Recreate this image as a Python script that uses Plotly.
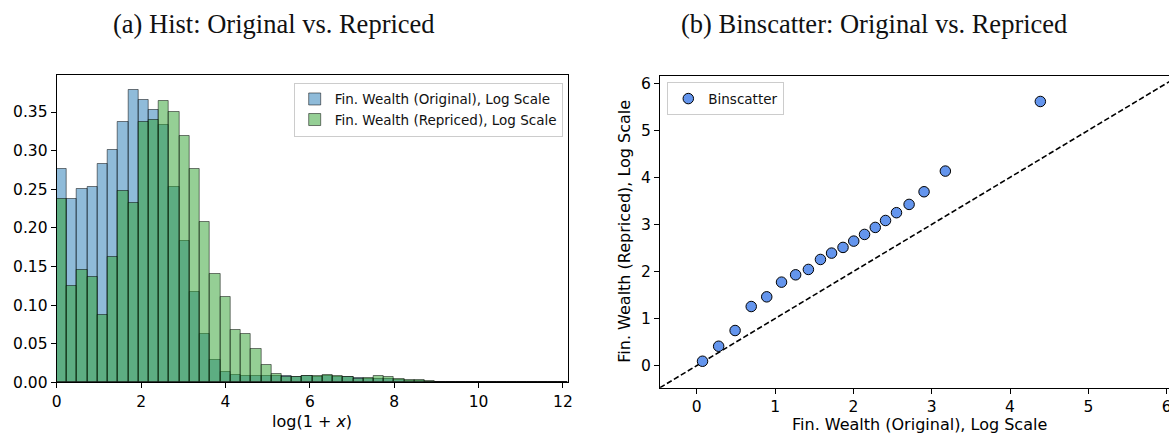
import numpy as np
import plotly.graph_objects as go

# ---- histogram data (density per bin, 50 equal bins over HIST_RANGE) ----
HIST_RANGE = (0.0, 12.12)
density_original = [
    0.2766, 0.2377, 0.2502, 0.2528, 0.2826, 0.3003, 0.3366, 0.3781, 0.3656, 0.3531,
    0.3332, 0.2524, 0.1824, 0.1167, 0.0622, 0.0285, 0.0136, 0.0092, 0.0086, 0.0083,
    0.0080, 0.0078, 0.0077, 0.0075, 0.0076, 0.0075, 0.0076, 0.0072, 0.0065, 0.0056,
    0.0046, 0.0045, 0.0040, 0.0031, 0.0022, 0.0015, 0.0010, 0.0008, 0.0006, 0.0005,
    0.0004, 0.0003, 0.0002, 0.0001, 0.0, 0.0, 0.0, 0.0, 0.0, 0.0,
]
density_repriced = [
    0.2373, 0.1249, 0.1452, 0.1366, 0.0873, 0.1621, 0.2472, 0.2316, 0.3366, 0.3392,
    0.3639, 0.3496, 0.3189, 0.2757, 0.2074, 0.1404, 0.1102, 0.0680, 0.0627, 0.0428,
    0.0225, 0.0110, 0.0075, 0.0073, 0.0078, 0.0078, 0.0090, 0.0082, 0.0072, 0.0048,
    0.0056, 0.0086, 0.0073, 0.0043, 0.0035, 0.0026, 0.0013, 0.0008, 0.0006, 0.0005,
    0.0004, 0.0003, 0.0002, 0.0001, 0.0, 0.0, 0.0, 0.0, 0.0, 0.0,
]

# ---- binscatter data ----
bin_original = [0.073, 0.279, 0.489, 0.695, 0.893, 1.082, 1.262, 1.425, 1.579, 1.721,
                1.867, 2.004, 2.142, 2.279, 2.410, 2.550, 2.711, 2.902, 3.174, 4.387]
bin_repriced = [0.092, 0.411, 0.745, 1.255, 1.461, 1.773, 1.929, 2.043, 2.255, 2.390,
                2.511, 2.645, 2.787, 2.936, 3.083, 3.249, 3.425, 3.694, 4.133, 5.612]

LIMS_B = (-0.47, 6.16)

n_bins = len(density_original)
edges = np.linspace(HIST_RANGE[0], HIST_RANGE[1], n_bins + 1)
width = edges[1] - edges[0]

W, H = 1169, 434
def px_x(p):
    return p / W
def px_y(p):
    return 1 - p / H

TICK_FONT = dict(family="DejaVu Sans", size=15.5, color="black")
LABEL_FONT = dict(family="DejaVu Sans", size=16, color="black")
TITLE_FONT = dict(family="Liberation Serif", size=26.5, color="#111111")

fig = go.Figure()

fig.add_trace(go.Bar(
    x=edges[:-1], y=density_original, width=width, offset=0,
    name="Fin. Wealth (Original), Log Scale",
    marker=dict(color="rgba(31,119,180,0.5)", line=dict(color="rgba(0,0,0,0.5)", width=1)),
    xaxis="x", yaxis="y", legend="legend",
))
fig.add_trace(go.Bar(
    x=edges[:-1], y=density_repriced, width=width, offset=0,
    name="Fin. Wealth (Repriced), Log Scale",
    marker=dict(color="rgba(44,160,44,0.5)", line=dict(color="rgba(0,0,0,0.5)", width=1)),
    xaxis="x", yaxis="y", legend="legend",
))

# 45-degree reference line
fig.add_trace(go.Scatter(
    x=list(LIMS_B), y=list(LIMS_B), mode="lines",
    line=dict(color="black", width=1.6, dash="5.5px,2.6px"),
    showlegend=False, xaxis="x2", yaxis="y2", hoverinfo="skip",
))
fig.add_trace(go.Scatter(
    x=bin_original, y=bin_repriced, mode="markers", name="Binscatter",
    marker=dict(size=10.5, color="#6495ED", line=dict(color="black", width=1)),
    xaxis="x2", yaxis="y2", legend="legend2",
))

axis_common = dict(
    showline=True, linecolor="black", linewidth=1.1, mirror=True,
    ticks="outside", ticklen=5, tickwidth=1.1, tickcolor="black",
    showgrid=False, zeroline=False, tickfont=TICK_FONT, automargin=False,
)

fig.update_layout(
    template="none",
    width=W, height=H,
    margin=dict(l=0, r=0, t=0, b=0, autoexpand=False),
    paper_bgcolor="white", plot_bgcolor="white",
    barmode="overlay", bargap=0,
    xaxis=dict(domain=[px_x(56.7), px_x(568)], range=list(HIST_RANGE),
               tickvals=[0, 2, 4, 6, 8, 10, 12], anchor="y", **axis_common),
    yaxis=dict(domain=[px_y(382.3), px_y(75)], range=[0, 0.398],
               tickvals=[0, 0.05, 0.10, 0.15, 0.20, 0.25, 0.30, 0.35], tickformat=".2f",
               anchor="x", **axis_common),
    xaxis2=dict(domain=[px_x(660), 1.0], range=[LIMS_B[0], 6.03],
                tickvals=[0, 1, 2, 3, 4, 5, 6], anchor="y2",
                ticklabeloverflow="allow", **axis_common),
    yaxis2=dict(domain=[px_y(387.7), px_y(75.7)], range=list(LIMS_B),
                tickvals=[0, 1, 2, 3, 4, 5, 6], anchor="x2",
                **{**axis_common, "mirror": False}),
    legend=dict(
        x=px_x(562.7), y=px_y(82.7), xanchor="right", yanchor="top",
        bgcolor="rgba(255,255,255,0.8)", bordercolor="#cccccc", borderwidth=1,
        font=dict(family="DejaVu Sans", size=13.5, color="#111111"),
        itemwidth=30, tracegroupgap=2,
    ),
    legend2=dict(
        x=px_x(667.3), y=px_y(82.3), xanchor="left", yanchor="top",
        bgcolor="rgba(255,255,255,0.8)", bordercolor="#cccccc", borderwidth=1,
        font=dict(family="DejaVu Sans", size=13.5, color="#111111"),
        itemwidth=30,
    ),
    showlegend=True,
    annotations=[
        dict(text="(a) Hist: Original vs. Repriced", x=px_x(274), y=px_y(24),
             xref="paper", yref="paper", xanchor="center", yanchor="middle",
             showarrow=False, font=TITLE_FONT),
        dict(text="(b) Binscatter: Original vs. Repriced", x=px_x(874), y=px_y(24),
             xref="paper", yref="paper", xanchor="center", yanchor="middle",
             showarrow=False, font=TITLE_FONT),
        dict(text="log(1 + <i>x</i>)", x=px_x(312.3), y=px_y(421),
             xref="paper", yref="paper", xanchor="center", yanchor="middle",
             showarrow=False, font=LABEL_FONT),
        dict(text="Fin. Wealth (Original), Log Scale", x=px_x(919.7), y=px_y(424),
             xref="paper", yref="paper", xanchor="center", yanchor="middle",
             showarrow=False, font=LABEL_FONT),
        dict(text="Fin. Wealth (Repriced), Log Scale", x=px_x(625), y=px_y(231.7),
             xref="paper", yref="paper", xanchor="center", yanchor="middle",
             textangle=-90, showarrow=False, font=LABEL_FONT),
    ],
)

fig.write_html("out.html")
